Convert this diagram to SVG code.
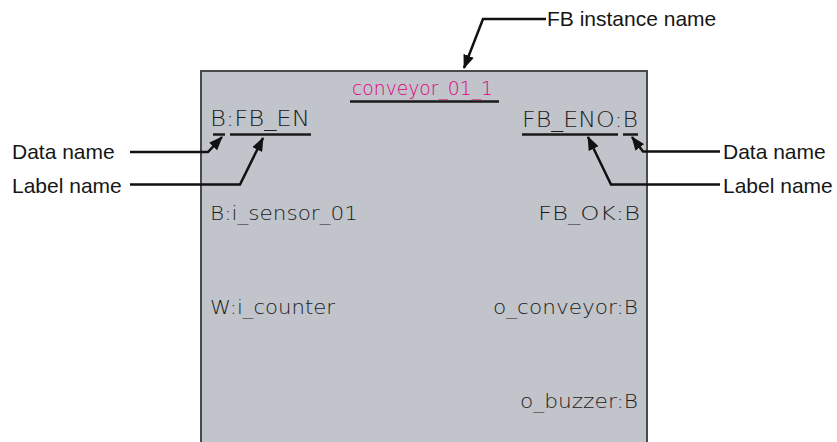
<svg xmlns="http://www.w3.org/2000/svg" width="837" height="442" viewBox="0 0 837 442">
  <style>
    .callout { font-family: "Liberation Sans", Arial, sans-serif; font-size: 21px; fill: #161616; }
    .pin { font-family: "DejaVu Sans", Verdana, sans-serif; font-size: 20px; font-weight: 200; fill: #1c1c1c; }
    .pin-top { font-family: "DejaVu Sans", Verdana, sans-serif; font-size: 22px; font-weight: 200; fill: #1c1c1c; }
    .inst { font-family: "DejaVu Sans", Verdana, sans-serif; font-size: 19px; font-weight: 200; fill: #e0007f; }
    .uline { stroke: #1a1a1a; stroke-width: 2.5; fill: none; }
    .conn { stroke: #111; stroke-width: 2.5; fill: none; stroke-linejoin: miter; }
  </style>
  <defs>
    <marker id="arrow" viewBox="0 0 14 11" refX="13" refY="5.5" markerWidth="14" markerHeight="11" markerUnits="userSpaceOnUse" orient="auto">
      <path d="M0,0 L14,5.5 L0,11 z" fill="#111"/>
    </marker>
  </defs>

  <g id="fb-block">
    <rect x="201" y="71" width="446" height="390" fill="#c1c4cb" stroke="#4a4a4a" stroke-width="2"/>
    <text class="inst" x="352" y="94.5" textLength="141" lengthAdjust="spacingAndGlyphs">conveyor_01_1</text>
    <line class="uline" x1="350" y1="101.5" x2="499" y2="101.5"/>

    <text class="pin-top" x="210" y="126" textLength="100" lengthAdjust="spacingAndGlyphs">B:FB_EN</text>
    <line class="uline" x1="213" y1="134.5" x2="225" y2="134.5"/>
    <line class="uline" x1="230" y1="134.5" x2="311" y2="134.5"/>

    <text class="pin-top" x="522" y="126.5" textLength="116" lengthAdjust="spacingAndGlyphs">FB_ENO:B</text>
    <line class="uline" x1="522" y1="134.5" x2="618" y2="134.5"/>
    <line class="uline" x1="623" y1="134.5" x2="638" y2="134.5"/>

    <text class="pin" x="210" y="219.5" textLength="148" lengthAdjust="spacingAndGlyphs">B:i_sensor_01</text>
    <text class="pin" x="538" y="219.5" textLength="102" lengthAdjust="spacingAndGlyphs">FB_OK:B</text>
    <text class="pin" x="210" y="313.5" textLength="125" lengthAdjust="spacingAndGlyphs">W:i_counter</text>
    <text class="pin" x="493" y="313.5" textLength="145" lengthAdjust="spacingAndGlyphs">o_conveyor:B</text>
    <text class="pin" x="520" y="408" textLength="118" lengthAdjust="spacingAndGlyphs">o_buzzer:B</text>
  </g>

  <g id="label-fb-instance">
    <text class="callout" x="547" y="26">FB instance name</text>
  </g>
  <g id="label-data-left">
    <text class="callout" x="12" y="159">Data name</text>
  </g>
  <g id="label-label-left">
    <text class="callout" x="12" y="193">Label name</text>
  </g>
  <g id="label-data-right">
    <text class="callout" x="723" y="159">Data name</text>
  </g>
  <g id="label-label-right">
    <text class="callout" x="723" y="193">Label name</text>
  </g>

  <g id="connectors">
    <path class="conn" d="M546,19 H483 L464,68" marker-end="url(#arrow)"/>
    <path class="conn" d="M130,152 H208 L222,137" marker-end="url(#arrow)"/>
    <path class="conn" d="M130,184.5 H240 L263,138" marker-end="url(#arrow)"/>
    <path class="conn" d="M720,151.5 H643 L632,137" marker-end="url(#arrow)"/>
    <path class="conn" d="M720,184.5 H611 L588,137" marker-end="url(#arrow)"/>
  </g>
</svg>
